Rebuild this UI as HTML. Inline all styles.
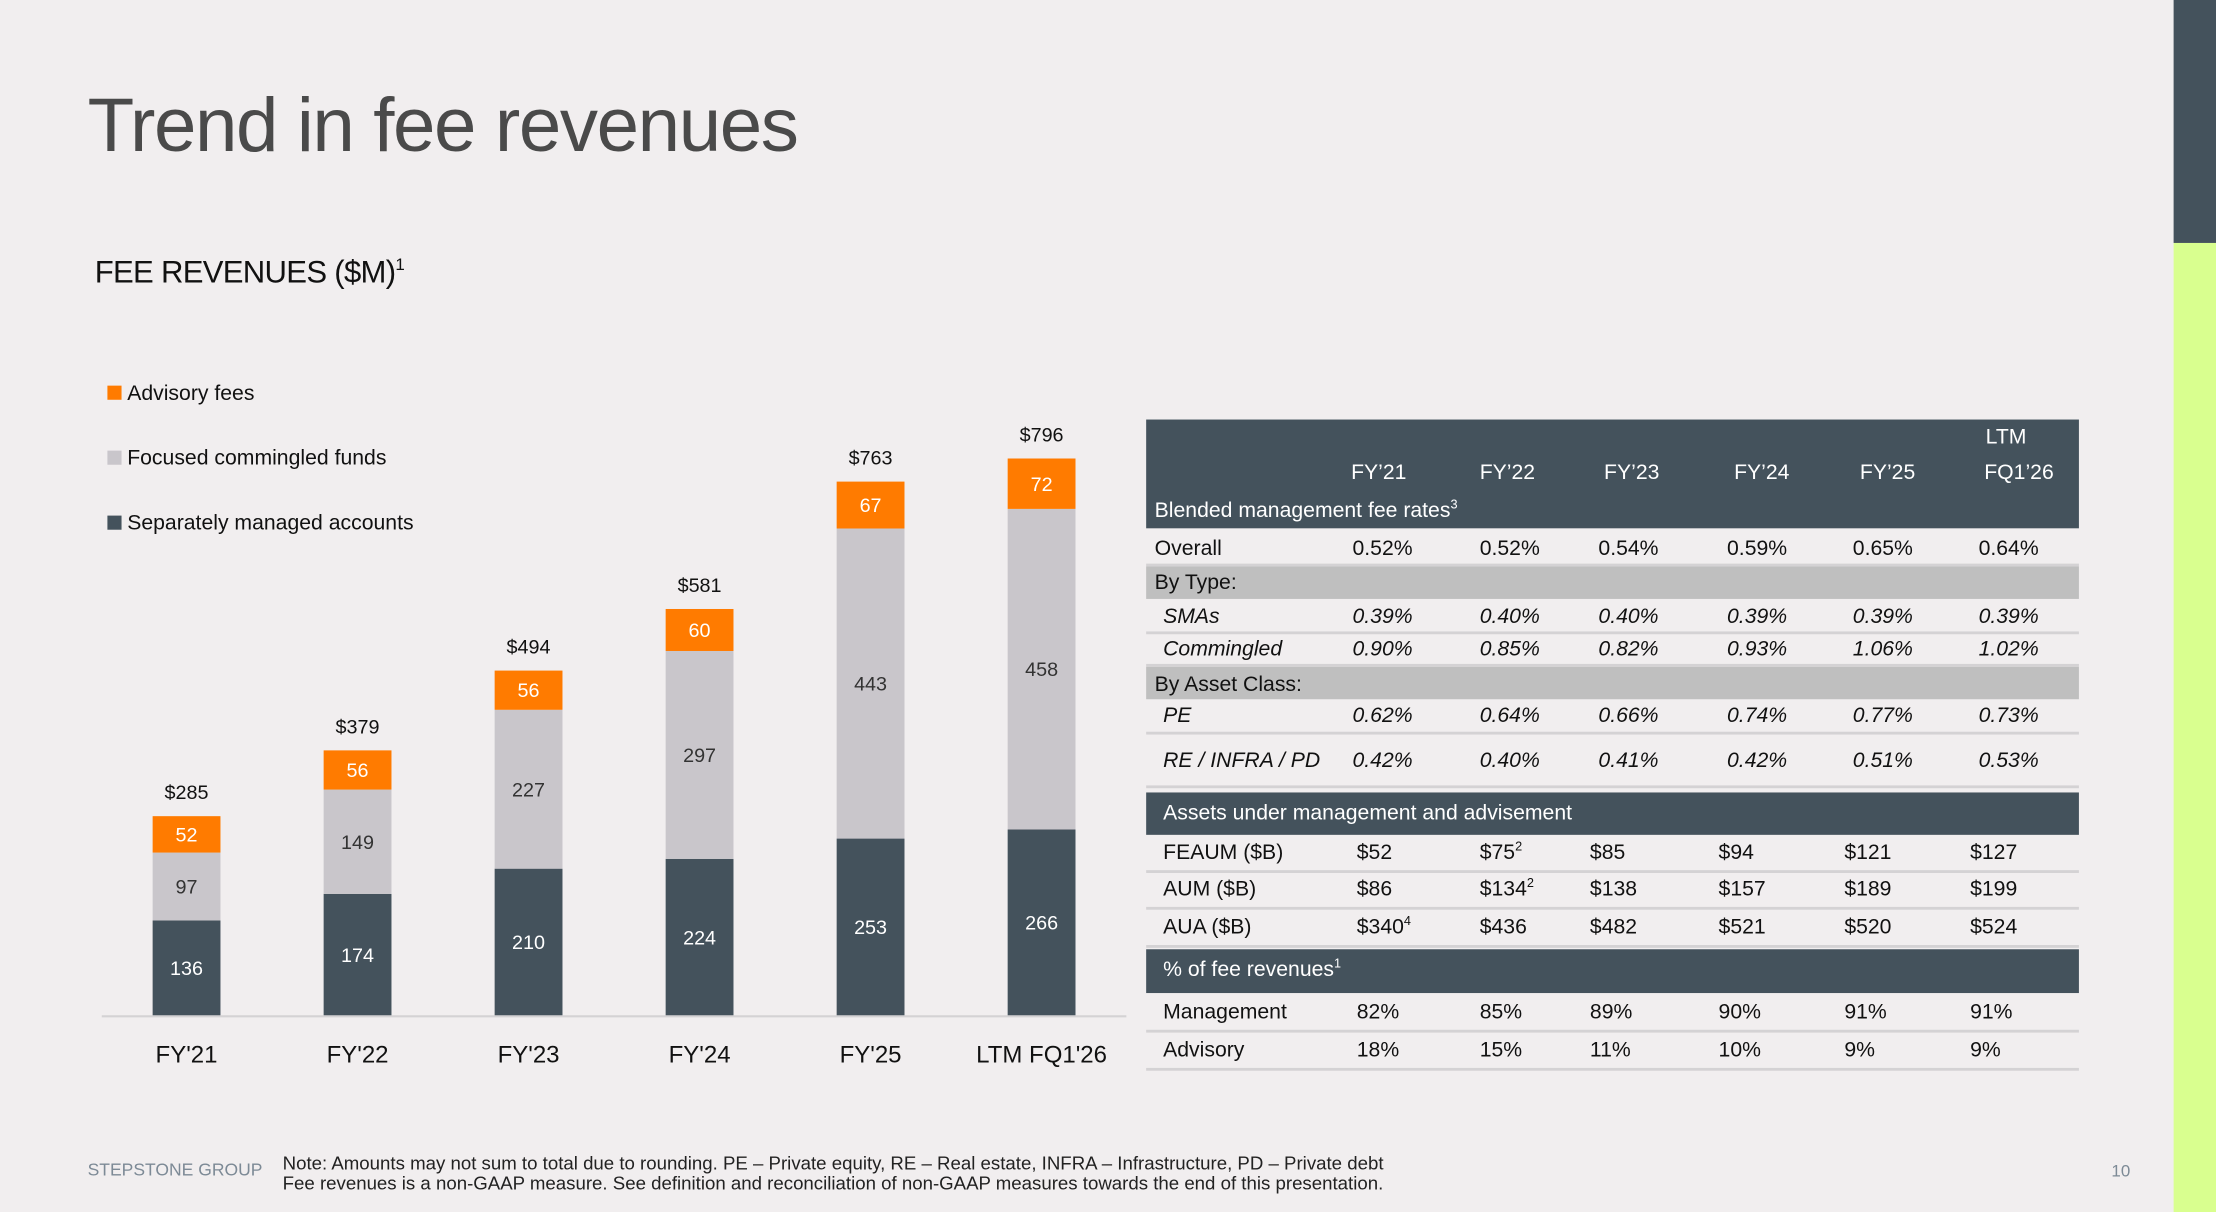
<!DOCTYPE html>
<html><head><meta charset="utf-8"><style>
html,body{margin:0;padding:0;width:2216px;height:1212px;overflow:hidden;background:#f1eeef;}
#s{position:absolute;left:0;top:0;width:1568px;height:858px;transform:scale(1.41327,1.41259);transform-origin:0 0;font-family:"Liberation Sans Narrow","Liberation Sans",sans-serif;color:#111;}
.a{position:absolute;white-space:nowrap;}
.t{font-size:15px;line-height:15px;}
.w{color:#fff;}
.i{font-style:italic;}
sup{font-size:9px;vertical-align:6px;line-height:0;}
.band{position:absolute;left:811px;width:660px;}
.ln{position:absolute;left:811px;width:660px;height:2px;background:#d4d2d4;}
</style></head><body>
<div id="s">
<div class="a" style="left:1538px;top:0;width:30px;height:172px;background:#44525c"></div>
<div class="a" style="left:1538px;top:172px;width:30px;height:686px;background:#d9ff8f"></div>
<div class="a" style="left:62px;top:58px;font-size:54px;font-family:'Liberation Sans',sans-serif;font-weight:300;color:#4a4a4a;letter-spacing:-1px">Trend in fee revenues</div>
<div class="a" style="left:67px;top:180px;font-size:22px;color:#111;letter-spacing:-0.5px">FEE REVENUES ($M)<sup style="font-size:12px;vertical-align:9px">1</sup></div>

<div class="a t" style="left:76px;top:271px"><span style="display:inline-block;width:10px;height:10px;background:#ff7b00;margin-right:4px"></span>Advisory fees</div>
<div class="a t" style="left:76px;top:317px"><span style="display:inline-block;width:10px;height:10px;background:#c9c6cb;margin-right:4px"></span>Focused commingled funds</div>
<div class="a t" style="left:76px;top:363px"><span style="display:inline-block;width:10px;height:10px;background:#44525c;margin-right:4px"></span>Separately managed accounts</div>

<svg class="a" style="left:0;top:0" width="810" height="780">
<g id="bars"></g>
<line x1="72" y1="719.5" x2="797" y2="719.5" stroke="#d4d2d4" stroke-width="1.5"/>
</svg>
<script>
const categories=["FY'21","FY'22","FY'23","FY'24","FY'25","LTM FQ1'26"];
const sma=[136,174,210,224,253,266];
const commingled=[97,149,227,297,443,458];
const advisory=[52,56,56,60,67,72];
const totals=["$285","$379","$494","$581","$763","$796"];
(function(){
const ns="http://www.w3.org/2000/svg",g=document.getElementById('bars');
const base=719,k=0.4955,x0=132,step=121,bw=48;
const y=v=>base-v*k;
function rect(x,yy,h,fill,name){const r=document.createElementNS(ns,'rect');r.setAttribute('x',x);r.setAttribute('y',yy);r.setAttribute('width',bw);r.setAttribute('height',h);r.setAttribute('fill',fill);


g.appendChild(r);}
function txt(x,yy,s,fill,size,name){const t=document.createElementNS(ns,'text');t.setAttribute('x',x);t.setAttribute('y',yy);t.setAttribute('text-anchor','middle');t.setAttribute('fill',fill);t.setAttribute('font-size',size);t.textContent=s;


g.appendChild(t);}
categories.forEach((c,i)=>{
const cx=x0+i*step,l=cx-bw/2;
const a=sma[i],b=a+commingled[i],d=b+advisory[i];
rect(l,y(a),a*k,'#44525c','bar-sma');
rect(l,y(b),commingled[i]*k,'#c9c6cb','bar-commingled');
rect(l,y(d),advisory[i]*k,'#ff7b00','bar-advisory');
txt(cx,(y(0)+y(a))/2+5,sma[i],'#fff',14,'label-sma');
txt(cx,(y(a)+y(b))/2+5,commingled[i],'#333',14,'label-commingled');
txt(cx,(y(b)+y(d))/2+5,advisory[i],'#fff',14,'label-advisory');
txt(cx,y(d)-12,totals[i],'#111',14,'label-total');
txt(cx,752,c,'#111',17,'x-tick-label');
});
})();
</script>

<div class="band" style="top:297px;height:77px;background:#44525c"></div>
<div class="band" style="top:401px;height:23px;background:#bfbfbf"></div>
<div class="band" style="top:472px;height:23px;background:#bfbfbf"></div>
<div class="band" style="top:561px;height:30px;background:#44525c"></div>
<div class="band" style="top:672px;height:31px;background:#44525c"></div>
<div class="ln" style="top:399px"></div><div class="ln" style="top:447px"></div><div class="ln" style="top:470px"></div><div class="ln" style="top:518px"></div><div class="ln" style="top:556px"></div><div class="ln" style="top:616px"></div><div class="ln" style="top:642px"></div><div class="ln" style="top:669px"></div><div class="ln" style="top:729px"></div><div class="ln" style="top:756px"></div>
<div id="tbl"></div>
<script>
(function(){
const T=document.getElementById('tbl');
const cols=[957,1047,1131,1222,1311,1400];
function put(x,yc,html,cls,name){const d=document.createElement('div');d.className='a t '+(cls||'');d.style.left=x+'px';d.style.top=(yc-8)+'px';d.innerHTML=html;


T.appendChild(d);}
const hdr=["FY’21","FY’22","FY’23","FY’24","FY’25","FQ1’26"];
const hx=[956,1047,1135,1227,1316,1404];
hdr.forEach((h,i)=>put(hx[i],335,h,'w','col-header'));
put(1405,310,'LTM','w','col-header');
put(817,362,'Blended management fee rates<sup>3</sup>','w','section-header');
put(823,576,'Assets under management and advisement','w','section-header');
put(823,687,'% of fee revenues<sup>1</sup>','w','section-header');
put(817,413,'By Type:','','group-label');
put(817,485,'By Asset Class:','','group-label');
const rows=[
["Overall",389,"",["0.52%","0.52%","0.54%","0.59%","0.65%","0.64%"],817],
["SMAs",437,"i",["0.39%","0.40%","0.40%","0.39%","0.39%","0.39%"],823],
["Commingled",460,"i",["0.90%","0.85%","0.82%","0.93%","1.06%","1.02%"],823],
["PE",507,"i",["0.62%","0.64%","0.66%","0.74%","0.77%","0.73%"],823],
["RE / INFRA / PD",539,"i",["0.42%","0.40%","0.41%","0.42%","0.51%","0.53%"],823],
["FEAUM ($B)",604,"",["$52","$75<sup>2</sup>","$85","$94","$121","$127"],823],
["AUM ($B)",630,"",["$86","$134<sup>2</sup>","$138","$157","$189","$199"],823],
["AUA ($B)",657,"",["$340<sup>4</sup>","$436","$482","$521","$520","$524"],823],
["Management",717,"",["82%","85%","89%","90%","91%","91%"],823],
["Advisory",744,"",["18%","15%","11%","10%","9%","9%"],823]];
rows.forEach(r=>{put(r[4],r[1],r[0],r[2],'row-label');
const money=r[1]>590;
r[3].forEach((v,i)=>put(cols[i]+(money&&i==0?3:0)-(money&&i>=2?6:0),r[1],v,r[2],'cell'));});
})();
</script>

<div class="a" style="left:62px;top:821px;font-size:12.4px;color:#7d8a96">STEPSTONE GROUP</div>
<div class="a" style="left:200px;top:817px;font-size:13.2px;line-height:14px;font-family:'Liberation Sans Narrow','Liberation Sans',sans-serif;color:#222">Note: Amounts may not sum to total due to rounding. PE – Private equity, RE – Real estate, INFRA – Infrastructure, PD – Private debt<br>Fee revenues is a non-GAAP measure. See definition and reconciliation of non-GAAP measures towards the end of this presentation.</div>
<div class="a" style="left:1494px;top:822px;font-size:12px;color:#7d8a96">10</div>
</div>
</body></html>
